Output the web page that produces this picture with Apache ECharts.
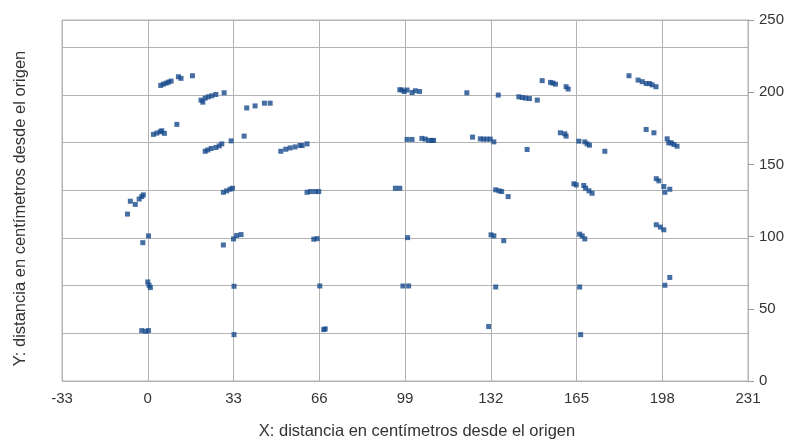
<!DOCTYPE html>
<html>
<head>
<meta charset="utf-8">
<script src="https://cdn.jsdelivr.net/npm/echarts@6/dist/echarts.min.js"></script>
<style>html,body{margin:0;padding:0;background:#fff}#c{width:790px;height:439px}</style>
</head>
<body>
<div id="c"></div>
<script>
// X values (cm) of the measured points
const xValues = [
  5.0, 6.0, 7.1, 8.0, 9.0, 11.8, 12.8, 17.2,
  20.5, 21.2, 22.1, 23.3, 24.6, 26.2, 29.4,
  38.1, 41.3, 44.9, 47.1,
  2.2, 3.5, 4.8, 5.4, 6.4, 11.2,
  22.1, 23.1, 24.4, 26.2, 27.5, 28.5, 32.1, 37.1,
  51.2, 53.1, 54.8, 56.7, 58.6, 59.4, 61.3,
  29.1, 30.4, 31.7, 32.6, 33.0, 34.2, 35.9,
  -7.8, -6.7, -4.8, -3.3, -2.3, -1.7,
  97.0, 97.8, 98.7, 99.8, 101.7, 103.0, 104.6, 122.8,
  99.8, 101.7, 105.5, 106.8, 108.1, 109.4, 110.0, 125.0,
  128.0, 129.2, 130.5, 131.8, 133.2,
  61.3, 62.6, 64.5, 65.8, 95.3, 97.0,
  134.9, 142.8, 144.1, 145.4, 146.9, 149.9, 151.8, 155.0, 155.9, 156.9, 161.0, 161.8,
  185.2, 188.7, 190.3, 191.8, 193.1, 194.1, 195.6,
  158.8, 160.5, 161.0, 146.0, 165.9, 168.2, 169.1, 170.0, 175.9,
  191.8, 194.8, 199.9, 200.5, 201.5, 202.5, 203.7,
  133.9, 135.2, 136.2, 138.7, 164.0, 164.9, 167.8, 168.5, 169.8, 171.0,
  195.7, 196.7, 198.6, 199.0, 200.9,
  0.3, -1.9, 0.0, 0.5, 1.0, 29.1, 33.2,
  -2.3, -0.8, 0.3, 33.2,
  63.9, 65.2, 66.2, 68.3, 67.7, 100.0, 98.2, 100.4, 131.2, 132.1,
  133.2, 137.0, 133.9, 166.2, 167.2, 168.2, 166.2, 166.6,
  195.7, 197.3, 198.6, 199.0, 200.9
];
// Y values (cm) of the measured points
const yValues = [
  204.7, 205.6, 206.3, 207.0, 207.7, 210.7, 209.6, 211.4,
  194.5, 193.1, 195.9, 196.8, 197.5, 198.4, 199.6,
  189.1, 190.5, 192.4, 192.4,
  170.8, 171.7, 172.6, 173.3, 171.5, 177.7,
  159.1, 160.0, 161.0, 161.7, 162.8, 164.2, 166.3, 169.6,
  159.1, 160.5, 161.4, 162.1, 163.1, 163.1, 164.2,
  130.7, 131.7, 132.8, 133.5, 98.4, 100.7, 101.4,
  115.6, 124.5, 122.3, 126.0, 127.7, 128.9,
  201.7, 201.5, 200.5, 201.5, 199.8, 201.0, 200.5, 199.6,
  167.3, 167.3, 168.0, 167.5, 166.6, 166.6, 166.6, 168.9,
  167.7, 167.5, 167.5, 167.5, 165.6,
  130.7, 131.2, 131.2, 131.2, 133.5, 133.5,
  198.0, 196.8, 196.3, 195.9, 195.6, 194.5, 208.0, 206.8, 206.3, 205.6, 203.8, 202.2,
  211.4, 208.4, 207.3, 206.0, 206.0, 205.1, 203.8,
  171.9, 171.2, 169.6, 160.3, 166.1, 165.6, 164.2, 163.3, 159.1,
  174.2, 171.9, 167.7, 164.9, 164.9, 163.8, 162.6,
  132.4, 131.7, 131.2, 127.7, 136.6, 135.8, 135.4, 133.5, 131.7, 130.0,
  140.1, 138.6, 134.7, 130.7, 132.8,
  100.5, 95.8, 68.6, 66.3, 64.7, 94.2, 65.6,
  34.9, 34.4, 34.9, 32.1,
  98.2, 98.6, 65.8, 36.1, 35.6, 99.3, 65.8, 65.8, 37.7, 101.2,
  100.5, 97.2, 65.1, 101.7, 100.5, 98.4, 65.1, 32.1,
  108.2, 106.6, 104.7, 66.3, 71.7
];
const xTickMin = -33, xTickMax = 231, xTickStep = 33;
const yRightMin = 0, yRightMax = 250, yRightStep = 50;
const xTitle = 'X: distancia en centímetros desde el origen';
const yTitle = 'Y: distancia en centímetros desde el origen';

const points = xValues.map((x, i) => [x, yValues[i]]);
const gridColor = '#b3b3b3';
const font = "'Liberation Sans', Arial, sans-serif";

const chart = echarts.init(document.getElementById('c'), null, {renderer: 'canvas'});
chart.setOption({
  animation: false,
  backgroundColor: '#ffffff',
  grid: {left: 62, right: 42, top: 20, bottom: 58, show: true, borderColor: gridColor, borderWidth: 1,
         containLabel: false, outerBoundsMode: 'none'},
  xAxis: {
    type: 'value', min: xTickMin, max: xTickMax, interval: xTickStep,
    axisLine: {show: false}, axisTick: {show: false},
    axisLabel: {color: '#333', fontFamily: font, fontSize: 15, margin: 10},
    splitLine: {show: true, lineStyle: {color: gridColor, width: 1}},
    name: xTitle, nameLocation: 'middle', nameGap: 42,
    nameTextStyle: {color: '#333', fontFamily: font, fontSize: 16.5, padding: [0, 0, 0, 24]}
  },
  yAxis: [
    {
      type: 'value', position: 'left', min: 0, max: 250, interval: 33,
      axisLine: {show: false}, axisTick: {show: false}, axisLabel: {show: false},
      splitLine: {show: true, lineStyle: {color: gridColor, width: 1}},
      name: yTitle, nameLocation: 'middle', nameGap: 33, nameRotate: 90,
      nameTextStyle: {color: '#333', fontFamily: font, fontSize: 16.5, padding: [0, 16, 0, 0]}
    },
    {
      type: 'value', position: 'right', min: yRightMin, max: yRightMax, interval: yRightStep,
      axisLine: {show: true, lineStyle: {color: gridColor}},
      axisTick: {show: true, length: 6, lineStyle: {color: '#999'}},
      axisLabel: {color: '#333', fontFamily: font, fontSize: 15, margin: 11},
      splitLine: {show: false}
    }
  ],
  series: [{
    type: 'scatter', yAxisIndex: 0, data: points,
    symbol: 'rect', symbolSize: 5,
    itemStyle: {color: '#164a8c'}
  }]
});
</script>
</body>
</html>
